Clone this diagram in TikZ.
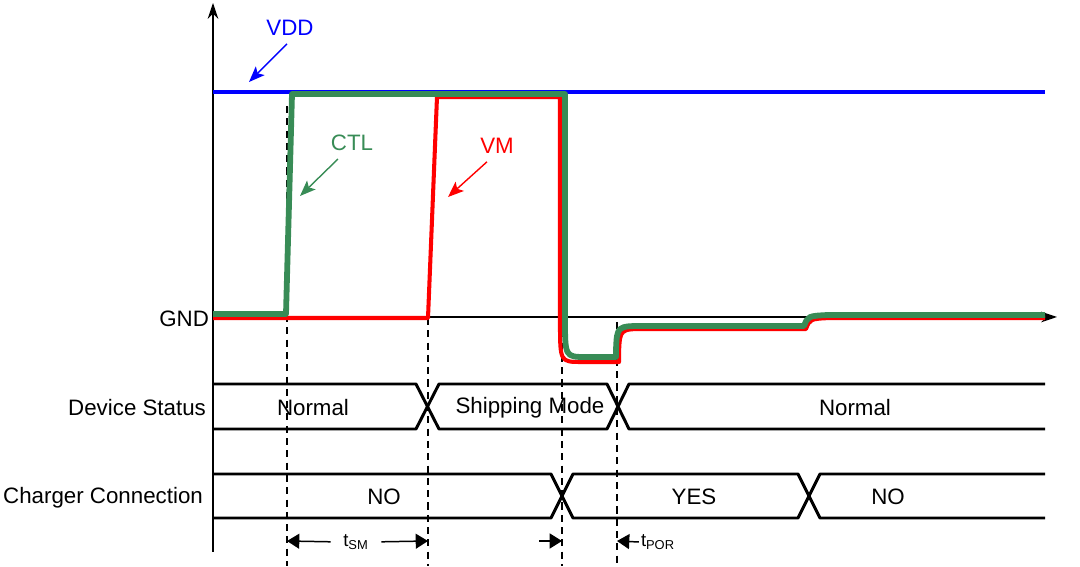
\documentclass[tikz,border=0pt]{standalone}
\usepackage{fontspec}
\setmainfont{Liberation Sans}
\usetikzlibrary{arrows.meta}
\usetikzlibrary{calc}
\definecolor{ctlgreen}{RGB}{56,140,86}

\tikzset{
 every node/.style={font=\fontsize{12.7}{15}\selectfont, inner sep=1pt},
 small/.style={font=\fontsize{10.5}{12}\selectfont},
 guide/.style={black, line width=0.75pt, dash pattern=on 4pt off 3pt},
 bus/.style={black, line width=1.7pt, line join=bevel},
 callout/.style={line width=0.8pt, -{Stealth[length=9pt,width=7pt,inset=2pt]}},
 dim/.style={black, line width=0.85pt, -{Triangle[length=7pt,width=8.5pt]}},
}

\begin{document}
\begin{tikzpicture}[x=0.02cm, y=-0.02cm]
\useasboundingbox (0,0) rectangle (1080,567);
\coordinate (O) at (213,317);
% axes
\draw[line width=0.75pt, -{Stealth[length=9pt,width=6pt]}] (213,552) -- (213,3);
\draw[line width=0.75pt, -{Stealth[length=9pt,width=6pt]}] (O) -- (1057,317);
% guides
\foreach \x/\y in {287/106, 428/318, 562/318, 617/322} {
 \draw[guide] (\x,\y) -- (\x,566);
}
% signals
\draw[blue, line width=2.7pt] (213,92) -- (1045,92);
\draw[red, line width=2.3pt, line join=round] (213,318) -- (428,318) -- (437,97) -- (560,97) -- (560,322)
  .. controls (560,362) .. (582,362) -- (619,362) -- (619,353) .. controls (620,329) .. (646,329)
  -- (806,329) .. controls (810,319) .. (830,318) -- (1045,318);
\draw[ctlgreen, line width=3.3pt, line join=round] (213,314) -- (286,314) -- (292,94) -- (565,94) -- (565,318)
  .. controls (565,357) .. (586,357) -- (616,357) -- (616,350) .. controls (617,326) .. (644,326)
  -- (804,326) .. controls (808,316) .. (828,315) -- (1045,315);
% signal names
\node[blue] (vdd) at (290,28) {VDD};
\coordinate (vddtip) at (249,82);
\draw[blue, callout] ($(vdd.south)+(-3,6)$) -- (vddtip);
\node[ctlgreen] (ctl) at (352,143) {CTL};
\coordinate (ctltip) at (300,196);
\draw[ctlgreen, callout] ($(ctl.south)+(-14,6)$) -- (ctltip);
\node[red] (vm) at (497,146) {VM};
\coordinate (vmtip) at (448,197);
\draw[red, callout] ($(vm.south)+(-10,6)$) -- (vmtip);
% row names
\node[left] (gnd) at (211,319) {GND};
\node[left] (dev) at (208,408) {Device Status};
\node[left] (chg) at (205,498) {Charger Connection};
% device status
\draw[bus] (213,384) -- (416,384) -- (439,429) -- (607,429) -- (629,384) -- (1045,384);
\draw[bus] (213,429) -- (416,429) -- (439,384) -- (607,384) -- (629,429) -- (1045,429);
\node (n1) at (313,408) {Normal};
\node (sm) at (530,408) {Shipping Mode};
\node (n2) at (855,408) {Normal};
% charger connection
\draw[bus] (213,474) -- (551,474) -- (573,518) -- (798,518) -- (820,474) -- (1045,474);
\draw[bus] (213,518) -- (551,518) -- (573,474) -- (798,474) -- (820,518) -- (1045,518);
\node (no1) at (384,497) {NO};
\node (yes) at (694,497) {YES};
\node (no2) at (888,497) {NO};
% timing
\coordinate (s0) at (287,541);
\coordinate (s1) at (428,541);
\node[small] (tsm) at (356,542) {t\textsubscript{SM}};
\draw[dim, shorten <=6pt] (tsm.west) -- (s0);
\draw[dim, shorten <=6pt] (tsm.east) -- (s1);
\coordinate (c0) at (539,541);
\coordinate (c1) at (562,541);
\draw[dim] (c0) -- (c1);
\coordinate (p0) at (617,541);
\node[small] (tpor) at (658,542) {t\textsubscript{POR}};
\draw[dim] (tpor.west) -- (p0);
\end{tikzpicture}
\end{document}
